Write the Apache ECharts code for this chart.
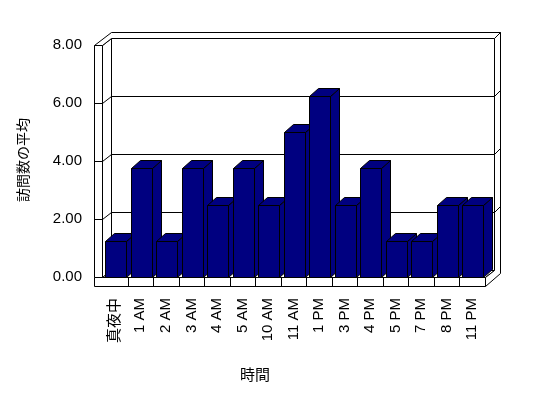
<!DOCTYPE html>
<html><head><meta charset="utf-8">
<script src="https://cdn.jsdelivr.net/npm/echarts@6/dist/echarts.min.js"></script>
<style>html,body{margin:0;padding:0;background:#fff}#c{width:548px;height:398px}</style>
</head><body><div id="c"></div>
<script>
const categories = ['真夜中','1 AM','2 AM','3 AM','4 AM','5 AM','10 AM','11 AM','1 PM','3 PM','4 PM','5 PM','7 PM','8 PM','11 PM'];
const visits = [1.25,3.75,1.25,3.75,2.5,3.75,2.5,5,6.25,2.5,3.75,1.25,1.25,2.5,2.5];
const yTicks = [0,2,4,6,8];
const yTitle = '訪問数の平均';
const xTitle = '時間';

const FONT = '"Liberation Sans", Arial, "Noto Sans CJK JP", sans-serif';
const WDX = 9, WDY = -7;   // wall depth
const BDX = 9, BDY = -8;   // bar depth
const TH = 8;              // wall thickness
const BAR = '#000080';
const r = v => Math.round(v) + 0.5;
const lineStyle = {stroke:'#000', lineWidth:1, fill:null};
const faceStyle = {stroke:'#000', lineWidth:1, fill:'#fff'};

function poly(pts, style){ return {type:'polygon', shape:{points:pts.map(p=>[r(p[0]),r(p[1])])}, style:style}; }
function seg(x1,y1,x2,y2){ return {type:'line', shape:{x1:r(x1),y1:r(y1),x2:r(x2),y2:r(y2)}, style:lineStyle}; }

function frameItem(params, api){
  const bw = api.size([1,0])[0];
  const p0 = api.coord([0, 0]);
  const pN = api.coord([categories.length-1, 0]);
  const L = p0[0]-bw/2, R = pN[0]+bw/2, B = p0[1];
  const T = api.coord([0, yTicks[yTicks.length-1]])[1];
  const ch = [];
  // back wall
  ch.push(poly([[L+WDX,T+WDY],[R+WDX,T+WDY],[R+WDX,B+WDY],[L+WDX,B+WDY]], faceStyle));
  // left wall side
  ch.push(poly([[L,T],[L+WDX,T+WDY],[L+WDX,B+WDY],[L,B]], faceStyle));
  // floor top
  ch.push(poly([[L,B],[R,B],[R+WDX,B+WDY],[L+WDX,B+WDY]], faceStyle));
  // top thickness
  ch.push(poly([[L-TH,T],[L+WDX,T-13],[R+15,T-13],[R+WDX,T+WDY],[L+WDX,T+WDY],[L,T]], faceStyle));
  // right thickness
  ch.push(poly([[R+WDX,T+WDY],[R+15,T-13],[R+15,B-4],[R,B+TH+1],[R,B],[R+WDX,B+WDY]], faceStyle));
  // floor front
  ch.push(poly([[L-TH,B],[R,B],[R,B+TH+1],[L-TH,B+TH+1]], faceStyle));
  // left wall front
  ch.push(poly([[L-TH,T],[L,T],[L,B],[L-TH,B]], faceStyle));
  // gridlines
  for (let k=1;k<yTicks.length-1;k++){
    const y = api.coord([0, yTicks[k]])[1];
    ch.push(seg(L-TH,y,L,y));
    ch.push(seg(L,y,L+WDX,y+WDY));
    ch.push(seg(L+WDX,y+WDY,R+WDX,y+WDY));
    ch.push(seg(R+WDX,y+WDY,R+15,y-13));
  }
  // category ticks on floor front
  for (let i=1;i<categories.length;i++){
    const x = L + i*bw;
    ch.push(seg(x,B,x,B+TH+1));
  }
  return {type:'group', children:ch};
}

function barItem(params, api){
  const bw = api.size([1,0])[0];
  const c = api.coord([api.value(0), api.value(1)]);
  const b = api.coord([api.value(0), 0]);
  const x0 = c[0]-bw/2+3, x1 = x0+21;
  const yt = c[1], yb = b[1];
  const st = {fill:BAR, stroke:'#000', lineWidth:1};
  return {type:'group', children:[
    poly([[x1,yt],[x1+BDX,yt+BDY],[x1+BDX,yb+BDY],[x1,yb]], st),
    poly([[x0,yt],[x1,yt],[x1+BDX,yt+BDY],[x0+BDX,yt+BDY]], st),
    poly([[x0,yt],[x1,yt],[x1,yb],[x0,yb]], st)
  ]};
}

const chart = echarts.init(document.getElementById('c'), null, {renderer:'canvas'});
chart.setOption({
  animation:false,
  backgroundColor:'#fff',
  grid:{left:102, right:63, top:45, bottom:121},
  xAxis:{type:'category', data:categories,
    axisLine:{show:false}, axisTick:{show:false},
    axisLabel:{rotate:90, interval:0, margin:21, fontSize:15, color:'#000', fontFamily:FONT}},
  yAxis:{type:'value', min:0, max:8, interval:2,
    axisLine:{show:false}, axisTick:{show:false}, splitLine:{show:false},
    axisLabel:{margin:20, fontSize:15, color:'#000', fontFamily:FONT, formatter:v=>v.toFixed(2)}},
  graphic:[
    {type:'text', x:255, y:376, style:{text:xTitle, fontSize:15, fontFamily:FONT, fill:'#000', align:'center', verticalAlign:'middle'}},
    {type:'text', x:24, y:160, rotation:Math.PI/2, style:{text:yTitle, fontSize:14, fontFamily:FONT, fill:'#000', align:'center', verticalAlign:'middle'}}
  ],
  series:[
    {type:'custom', z:1, data:[[0,0]], renderItem:frameItem, silent:true},
    {type:'custom', z:2, data:visits.map((v,i)=>[i,v]), renderItem:barItem, silent:true}
  ]
});
</script></body></html>
